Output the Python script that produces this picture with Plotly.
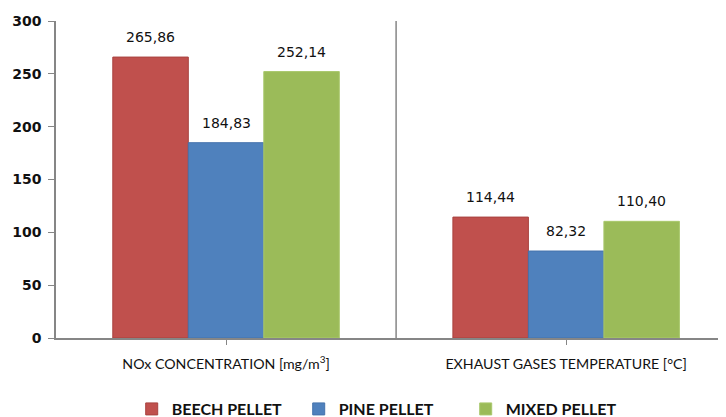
import plotly.graph_objects as go

categories = ["NOx CONCENTRATION [mg/m<sup>3</sup>]", "EXHAUST GASES TEMPERATURE [°C]"]
series_names = ["BEECH PELLET", "PINE PELLET", "MIXED PELLET"]
beech = [265.86, 114.44]
pine = [184.83, 82.32]
mixed = [252.14, 110.40]
y_ticks = [0, 50, 100, 150, 200, 250, 300]

values = [beech, pine, mixed]
colors = ["#C0504D", "#4F81BD", "#9BBB59"]
borders = ["#A8423F", "#4573AD", "#A9C86C"]

fig = go.Figure()
for name, vals, c, b in zip(series_names, values, colors, borders):
    fig.add_trace(go.Bar(
        x=[0, 1], y=vals, name=name,
        marker=dict(color=c, line=dict(color=b, width=1)),
    ))

# data labels positioned from the data
bar_px = 75.6
for i, vals in enumerate(values):
    for xi, v in enumerate(vals):
        fig.add_annotation(
            x=xi, y=v, xref="x", yref="y",
            text=f"{v:.2f}".replace(".", ","),
            showarrow=False, yanchor="bottom", xanchor="center",
            xshift=(i - 1) * bar_px, yshift=10,
            font=dict(family="DejaVu Sans", size=14, color="#111111"),
        )

# category separator
fig.add_shape(type="line", xref="x", yref="y", x0=0.5, x1=0.5, y0=0, y1=300,
              line=dict(color="#868686", width=1.5))

# page has an 8px body margin, so the figure is sized to fill the rest of the window
fig.update_layout(
    width=718, height=409,
    margin=dict(l=48, r=0, t=13, b=79, autoexpand=False),
    paper_bgcolor="white", plot_bgcolor="white",
    barmode="group", bargap=0.334, bargroupgap=0,
    showlegend=True,
    legend=dict(orientation="h", x=0.113, xanchor="left", y=-0.224, yanchor="middle",
                font=dict(family="Lato", size=16, color="#111111", weight="bold"),
                itemwidth=30, entrywidth=122, entrywidthmode="pixels",
                traceorder="normal"),
    xaxis=dict(
        range=[-0.5, 1.47], tickmode="array", tickvals=[0, 1], ticktext=categories,
        showline=True, linecolor="#868686", linewidth=1.5,
        ticks="outside", ticklen=5, tickcolor="#868686", tickson="boundaries",
        showgrid=False, zeroline=False, automargin=False,
        tickfont=dict(family="Lato", size=14.2, color="#111111"),
        ticklabelstandoff=7,
    ),
    yaxis=dict(
        range=[0, 300], tickvals=y_ticks,
        showline=True, linecolor="#868686", linewidth=1.5,
        ticks="outside", ticklen=6, tickcolor="#868686",
        showgrid=False, zeroline=False, automargin=False,
        tickfont=dict(family="DejaVu Sans", size=14, color="#111111", weight="bold"),
        ticklabelstandoff=4,
    ),
)

fig.write_html("out.html")
